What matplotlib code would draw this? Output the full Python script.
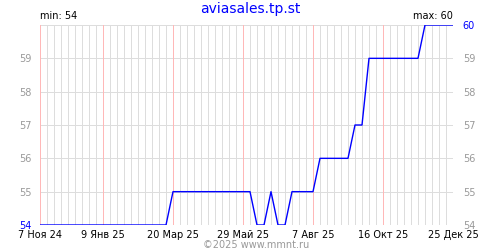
import matplotlib
matplotlib.use('Agg')
import matplotlib.pyplot as plt
import pandas as pd

start = '2024-11-07'
# weekly values
values = ([54] * 19 + [55] * 12 + [54] * 2 + [55] + [54] * 2 + [55] * 4
          + [56] * 5 + [57] * 2 + [59] * 8 + [60] * 5)
x_labels = ['7 Ноя 24', '9 Янв 25', '20 Мар 25', '29 Май 25',
            '7 Авг 25', '16 Окт 25', '25 Дек 25']
label_weeks = [0, 9, 19, 29, 39, 49, 59]
y_ticks = [54, 55, 56, 57, 58, 59, 60]

dates = pd.date_range(start, periods=len(values), freq='7D')
days = (dates - dates[0]).days

fig = plt.figure(figsize=(5, 2.5), dpi=100)
ax = fig.add_axes([0.08, 0.1, 0.826, 0.8])

# grid, 1 px lines
for i, d in enumerate(days):
    pink = i in label_weeks
    ax.axvline(d, color='#ffb8b8' if pink else '#dddddd', lw=0.72,
               zorder=2 if pink else 1, snap=True)
for v in y_ticks:
    ax.axhline(v, color='#dddddd', lw=0.72, zorder=1, snap=True)

ax.plot(days, values, color='#0000ff', lw=1, zorder=3)

ax.set_xlim(days[0], days[-1])
ax.set_ylim(min(y_ticks), max(y_ticks))
for s in ax.spines.values():
    s.set_visible(False)

ax.set_xticks([days[i] for i in label_weeks])
ax.set_xticklabels(x_labels, fontsize=7)
ax.tick_params(axis='x', length=0, pad=3.5)
ax.tick_params(axis='y', length=0, pad=6)

ax.set_yticks(y_ticks[:-1])
ax.set_yticklabels([str(v) for v in y_ticks[:-1]], fontsize=7)
for lbl in ax.get_yticklabels():
    lbl.set_color('#0000ff' if lbl.get_text() == '54' else '#999999')
    lbl.set_verticalalignment('center_baseline')

ax2 = ax.twinx()
ax2.set_ylim(ax.get_ylim())
for s in ax2.spines.values():
    s.set_visible(False)
ax2.set_yticks(y_ticks)
ax2.set_yticklabels([str(v) for v in y_ticks], fontsize=7)
ax2.tick_params(length=0, pad=7)
for lbl in ax2.get_yticklabels():
    lbl.set_color('#0000ff' if lbl.get_text() == '60' else '#999999')
    lbl.set_verticalalignment('center_baseline')

fig.text(0.5, 0.962, 'aviasales.tp.st', color='#0000ff', fontsize=10,
         ha='center', va='center')
ax.text(days[0], 60.12, 'min: %d' % min(values), fontsize=7,
        ha='left', va='bottom')
ax.text(days[-1], 60.12, 'max: %d' % max(values), fontsize=7,
        ha='right', va='bottom')
fig.text(0.512, 0.0, '©2025 www.mmnt.ru', color='#999999', fontsize=7,
         ha='center', va='bottom')

fig.savefig('out.png', dpi=100)
